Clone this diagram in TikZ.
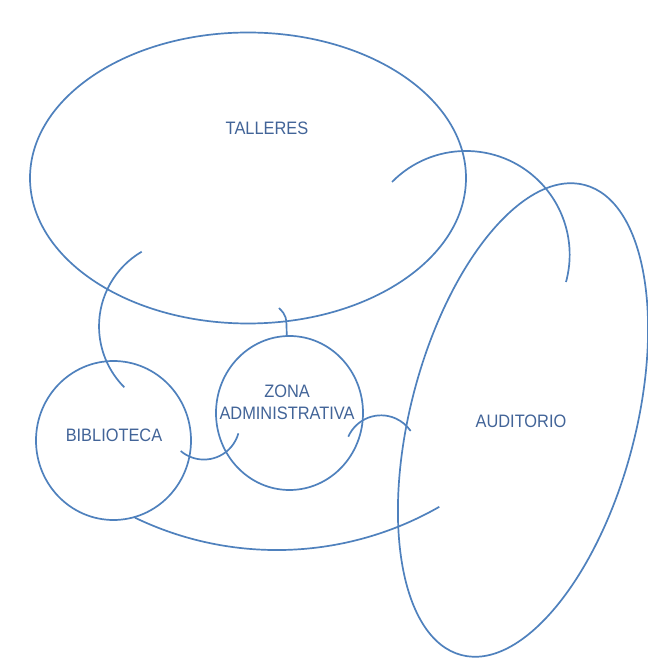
\documentclass[tikz,border=0pt]{standalone}
\usepackage{fontspec}
\setmainfont[FakeStretch=0.91]{Liberation Sans}
\usetikzlibrary{shapes.geometric}
\definecolor{lineblue}{RGB}{79,129,189}
\definecolor{textblue}{RGB}{66,100,152}
\begin{document}
\begin{tikzpicture}[x=1pt,y=1pt,
  zone/.style={ellipse, draw=lineblue, line width=1.7pt, inner sep=0pt, outer sep=0pt},
  link/.style={draw=lineblue, line width=1.7pt},
  lbl/.style={text=textblue, font=\fontsize{18}{22}\selectfont, inner sep=0pt, anchor=base, align=center}]
\useasboundingbox (0,0) rectangle (648,659);
\fill[white] (0,0) rectangle (648,659);

% areas
\node[zone, minimum width=436pt, minimum height=291pt] (talleres) at (248,481) {};
\node[zone, minimum width=486pt, minimum height=225pt, rotate=75.3] (auditorio) at (523,239) {};
\node[zone, minimum width=155pt, minimum height=159pt] (biblioteca) at (113.5,218.5) {};
\node[zone, minimum width=147pt, minimum height=154pt] (zona) at (289.5,246) {};

% labels
\node[lbl] (tTalleres) at (267,524) {TALLERES};
\node[lbl] (tZona) at (287,239) {ZONA\\ADMINISTRATIVA};
\node[lbl] (tBiblio) at (114,217) {BIBLIOTECA};
\node[lbl] (tAudit) at (521,231) {AUDITORIO};

% connector start points
\coordinate (cTA) at (392,477);
\coordinate (cTB) at (141.7,407.3);
\coordinate (cTZ) at (279,351);
\coordinate (cTZe) at (286.7,323);
\coordinate (cBZ) at (180.7,208);
\coordinate (cZA) at (348.3,222.3);
\coordinate (cBA) at (135,141.3);

% connectors
\draw[link] (cTA) arc[start angle=135.5, end angle=-15.3, radius=103.7pt];
\draw[link] (cTB) arc[start angle=120.4, end angle=225, radius=86.4pt];
\draw[link] (cTZ) .. controls (286.5,343) .. (cTZe);
\draw[link] (cBZ) arc[start angle=229.5, end angle=344.6, radius=35.75pt];
\draw[link] (cZA) arc[start angle=156.2, end angle=34.3, radius=35.8pt];
\draw[link] (cBA) arc[start angle=244.3, end angle=299.8, radius=327pt];
\end{tikzpicture}
\end{document}
